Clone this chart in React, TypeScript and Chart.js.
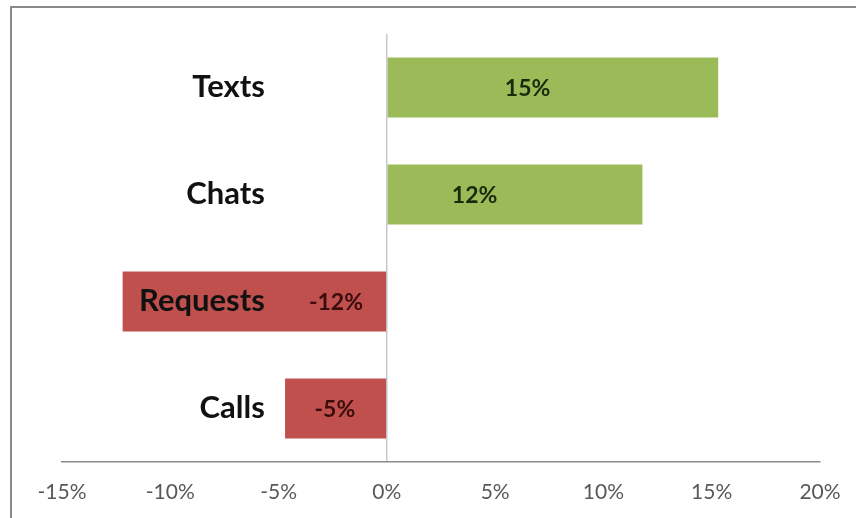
import { useEffect, useRef } from "react";
import { Chart, registerables } from "chart.js";

Chart.register(...registerables);

// ---- data ----
const categories = ["Texts", "Chats", "Requests", "Calls"];
const changes = [0.153, 0.118, -0.122, -0.047];
// x value (fraction) at which each value label is centred
const valueLabelAt = [0.065, 0.0405, -0.0235, -0.024];
const xTicks = [-0.15, -0.1, -0.05, 0, 0.05, 0.1, 0.15, 0.2];
const X_MIN = -0.15;
const X_MAX = 0.2;

const GREEN = "#9BBB59";
const RED = "#C0504D";
const pct = (v: number) => `${Math.round(v * 100)}%`;

const labelsPlugin = {
  id: "labelsPlugin",
  afterDatasetsDraw(chart: any) {
    const { ctx } = chart;
    const xs = chart.scales.x;
    const ys = chart.scales.y;
    const zero = xs.getPixelForValue(0);
    ctx.save();
    ctx.textBaseline = "middle";
    categories.forEach((cat, i) => {
      const y = ys.getPixelForValue(i);
      // category name
      ctx.font = "bold 31px Lato";
      ctx.fillStyle = "#111";
      ctx.textAlign = "right";
      ctx.fillText(cat, zero - 122, y - 1);
      // value label
      ctx.font = "bold 23px Lato";
      ctx.fillStyle = changes[i] >= 0 ? "#1c2a0c" : "#3a0d0c";
      ctx.textAlign = "center";
      ctx.fillText(pct(changes[i]), xs.getPixelForValue(valueLabelAt[i]), y + 1);
    });
    ctx.restore();
  },
};

export default function App() {
  const ref = useRef<HTMLCanvasElement | null>(null);
  useEffect(() => {
    if (!ref.current) return;
    const chart = new Chart(ref.current, {
      type: "bar",
      data: {
        labels: categories,
        datasets: [
          {
            data: changes,
            backgroundColor: changes.map((v) => (v >= 0 ? GREEN : RED)),
            barPercentage: 0.56,
            categoryPercentage: 1,
          },
        ],
      },
      options: {
        indexAxis: "y",
        animation: false,
        responsive: false,
        devicePixelRatio: 1,
        layout: { padding: { left: 62, right: 36, top: 34, bottom: 0 } },
        plugins: { legend: { display: false }, tooltip: { enabled: false } },
        scales: {
          x: {
            type: "linear",
            min: X_MIN,
            max: X_MAX,
            afterBuildTicks: (scale: any) => {
              scale.ticks = xTicks.map((v) => ({ value: v }));
            },
            afterFit: (scale: any) => {
              scale.paddingLeft = 0;
              scale.paddingRight = 0;
              scale.height = 56;
            },
            grid: {
              display: true,
              drawTicks: false,
              color: (c: any) =>
                c.tick && Math.abs(c.tick.value) < 1e-9 ? "#c4c8cf" : "rgba(0,0,0,0)",
              lineWidth: 1.5,
            },
            border: { display: true, color: "#8c8c8c", width: 1.5 },
            ticks: {
              padding: 18,
              color: "#595959",
              font: { family: "Lato", size: 21 },
              callback: (v: any) => pct(Number(v)),
            },
          },
          y: {
            type: "category",
            display: false,
          },
        },
      },
      plugins: [labelsPlugin],
    });
    return () => chart.destroy();
  }, []);

  return (
    <div
      style={{
        position: "fixed",
        left: 0,
        top: 0,
        width: 856,
        height: 518,
        background: "#fff",
        overflow: "hidden",
      }}
    >
      <div
        style={{
          position: "absolute",
          left: 10,
          top: 6,
          width: 900,
          height: 600,
          borderLeft: "2px solid #8a8a8a",
          borderTop: "2px solid #8a8a8a",
        }}
      />
      <canvas
        ref={ref}
        width={856}
        height={518}
        style={{ position: "absolute", left: 0, top: 0 }}
      />
    </div>
  );
}
